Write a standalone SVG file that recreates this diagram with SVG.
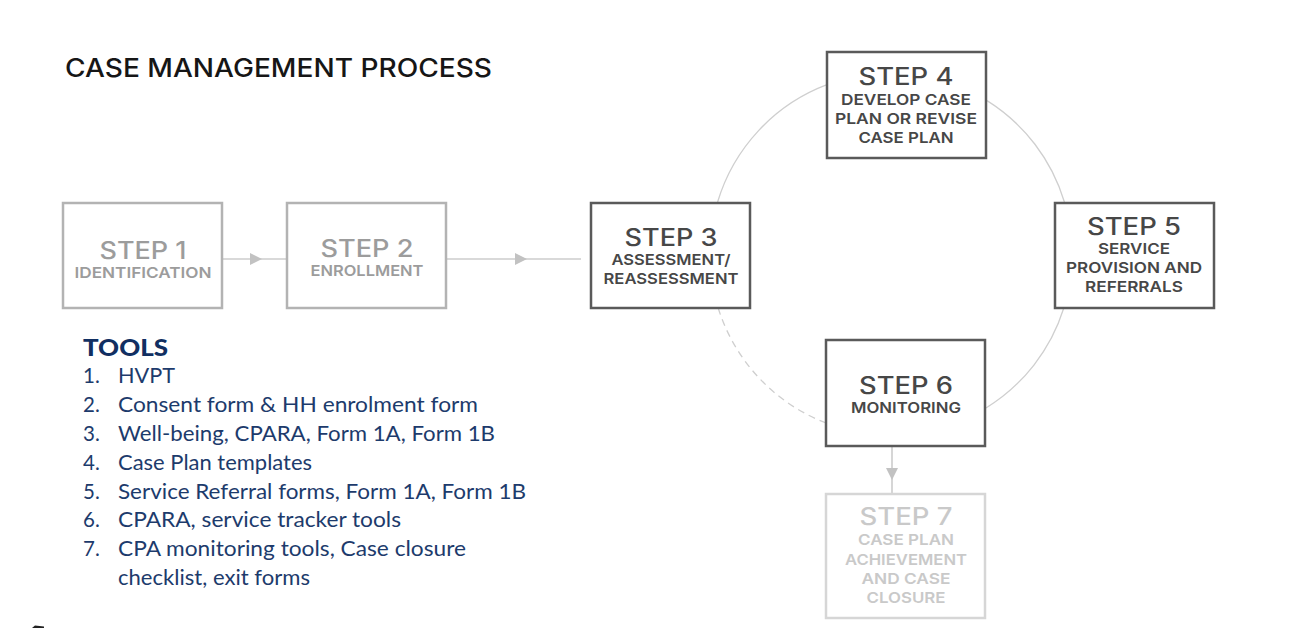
<svg xmlns="http://www.w3.org/2000/svg" width="1297" height="628" viewBox="0 0 1297 628">
<style>
.box{fill:#fff;stroke-width:2.5}
.dark{stroke:#5a5a5a}
.mid{stroke:#b3b3b3}
.light{stroke:#d6d6d6}
.big{font-family:Inter,"Liberation Sans",sans-serif;font-weight:500;font-size:24px;text-anchor:middle}
.sub{font-family:Inter,"Liberation Sans",sans-serif;font-weight:600;font-size:15px;text-anchor:middle}
.tdark{fill:#474747}
.tmid{fill:#9c9c9c}
.tlight{fill:#c9c9c9}
.arc{fill:none;stroke:#cfcfcf;stroke-width:1.3}
.conn{fill:none;stroke:#cccccc;stroke-width:1.6}
.tools{font-family:Lato,"Liberation Sans",sans-serif;font-size:20.5px;fill:#1d3b6c}
</style>
<defs>
<marker id="tri" viewBox="0 0 12 12" markerWidth="12" markerHeight="12" refX="12" refY="6" orient="auto" markerUnits="userSpaceOnUse">
<path d="M0,0 L12,6 L0,12 Z" fill="#c2c2c2"/>
</marker>
</defs>
<rect width="1297" height="628" fill="#fff"/>
<text x="65" y="77" font-family="Inter,'Liberation Sans',sans-serif" font-weight="500" font-size="25" fill="#161616" textLength="427" lengthAdjust="spacingAndGlyphs">CASE MANAGEMENT PROCESS</text>
<g id="connectors">
<path class="arc" d="M717.6,202 A181,181 0 0 1 827,84.7"/>
<path class="arc" d="M987,100.6 A181,181 0 0 1 1064.4,202"/>
<path class="arc" d="M1063.8,308 A181,181 0 0 1 986,408"/>
<path class="arc" stroke-dasharray="7 5" d="M718.2,308 A181,181 0 0 0 826,423"/>
<path class="conn" marker-mid="url(#tri)" d="M223,259 L262,259 L287,259"/>
<path class="conn" marker-mid="url(#tri)" d="M447,259 L527,259 L581,259"/>
<path class="conn" marker-mid="url(#tri)" d="M892,446 L892,480 L892,494"/>
</g>
<g id="step1">
<rect class="box mid" x="63" y="203" width="159" height="105"/>
<text class="big tmid" x="143" y="259" textLength="87" lengthAdjust="spacingAndGlyphs">STEP 1</text>
<text class="sub tmid" x="143" y="278" textLength="137" lengthAdjust="spacingAndGlyphs">IDENTIFICATION</text>
</g>
<g id="step2">
<rect class="box mid" x="287" y="203" width="159" height="105"/>
<text class="big tmid" x="367" y="257" textLength="93" lengthAdjust="spacingAndGlyphs">STEP 2</text>
<text class="sub tmid" x="367" y="276" textLength="113" lengthAdjust="spacingAndGlyphs">ENROLLMENT</text>
</g>
<g id="step3">
<rect class="box dark" x="591" y="203" width="159" height="105"/>
<text class="big tdark" x="671" y="246" textLength="93" lengthAdjust="spacingAndGlyphs">STEP 3</text>
<text class="sub tdark" x="671" y="265" textLength="119" lengthAdjust="spacingAndGlyphs">ASSESSMENT/</text>
<text class="sub tdark" x="671" y="284" textLength="135" lengthAdjust="spacingAndGlyphs">REASSESSMENT</text>
</g>
<g id="step4">
<rect class="box dark" x="827" y="52" width="159" height="106"/>
<text class="big tdark" x="906" y="85" textLength="95" lengthAdjust="spacingAndGlyphs">STEP 4</text>
<text class="sub tdark" x="906" y="105" textLength="130" lengthAdjust="spacingAndGlyphs">DEVELOP CASE</text>
<text class="sub tdark" x="906" y="124" textLength="142" lengthAdjust="spacingAndGlyphs">PLAN OR REVISE</text>
<text class="sub tdark" x="906" y="143" textLength="95" lengthAdjust="spacingAndGlyphs">CASE PLAN</text>
</g>
<g id="step5">
<rect class="box dark" x="1055" y="203" width="159" height="105"/>
<text class="big tdark" x="1134" y="235" textLength="94" lengthAdjust="spacingAndGlyphs">STEP 5</text>
<text class="sub tdark" x="1134" y="254" textLength="72" lengthAdjust="spacingAndGlyphs">SERVICE</text>
<text class="sub tdark" x="1134" y="273" textLength="136" lengthAdjust="spacingAndGlyphs">PROVISION AND</text>
<text class="sub tdark" x="1134" y="292" textLength="98" lengthAdjust="spacingAndGlyphs">REFERRALS</text>
</g>
<g id="step6">
<rect class="box dark" x="826" y="340" width="159" height="106"/>
<text class="big tdark" x="906" y="394" textLength="94" lengthAdjust="spacingAndGlyphs">STEP 6</text>
<text class="sub tdark" x="906" y="413" textLength="110" lengthAdjust="spacingAndGlyphs">MONITORING</text>
</g>
<g id="step7">
<rect class="box light" x="826" y="494" width="159" height="124"/>
<text class="big tlight" x="906" y="525" textLength="93" lengthAdjust="spacingAndGlyphs">STEP 7</text>
<text class="sub tlight" x="906" y="545" textLength="96" lengthAdjust="spacingAndGlyphs">CASE PLAN</text>
<text class="sub tlight" x="906" y="565" textLength="122" lengthAdjust="spacingAndGlyphs">ACHIEVEMENT</text>
<text class="sub tlight" x="906" y="584" textLength="89" lengthAdjust="spacingAndGlyphs">AND CASE</text>
<text class="sub tlight" x="906" y="603" textLength="79" lengthAdjust="spacingAndGlyphs">CLOSURE</text>
</g>
<g id="tools">
<text x="83" y="356" font-family="Lato,'Liberation Sans',sans-serif" font-weight="900" font-size="22" fill="#112f62" textLength="85" lengthAdjust="spacingAndGlyphs">TOOLS</text>
<text class="tools" x="83" y="383">1.</text>
<text class="tools" x="118" y="383" textLength="57" lengthAdjust="spacingAndGlyphs">HVPT</text>
<text class="tools" x="83" y="412">2.</text>
<text class="tools" x="118" y="412" textLength="360" lengthAdjust="spacingAndGlyphs">Consent form &amp; HH enrolment form</text>
<text class="tools" x="83" y="441">3.</text>
<text class="tools" x="118" y="441" textLength="377" lengthAdjust="spacingAndGlyphs">Well-being, CPARA, Form 1A, Form 1B</text>
<text class="tools" x="83" y="470">4.</text>
<text class="tools" x="118" y="470" textLength="194" lengthAdjust="spacingAndGlyphs">Case Plan templates</text>
<text class="tools" x="83" y="499">5.</text>
<text class="tools" x="118" y="499" textLength="408" lengthAdjust="spacingAndGlyphs">Service Referral forms, Form 1A, Form 1B</text>
<text class="tools" x="83" y="527">6.</text>
<text class="tools" x="118" y="527" textLength="283" lengthAdjust="spacingAndGlyphs">CPARA, service tracker tools</text>
<text class="tools" x="83" y="556">7.</text>
<text class="tools" x="118" y="556" textLength="348" lengthAdjust="spacingAndGlyphs">CPA monitoring tools, Case closure</text>
<text class="tools" x="118" y="585" textLength="192" lengthAdjust="spacingAndGlyphs">checklist, exit forms</text>
</g>
<path d="M32,628 L35,625.5 L44,626.5 L44,628 Z" fill="#222"/>
</svg>
